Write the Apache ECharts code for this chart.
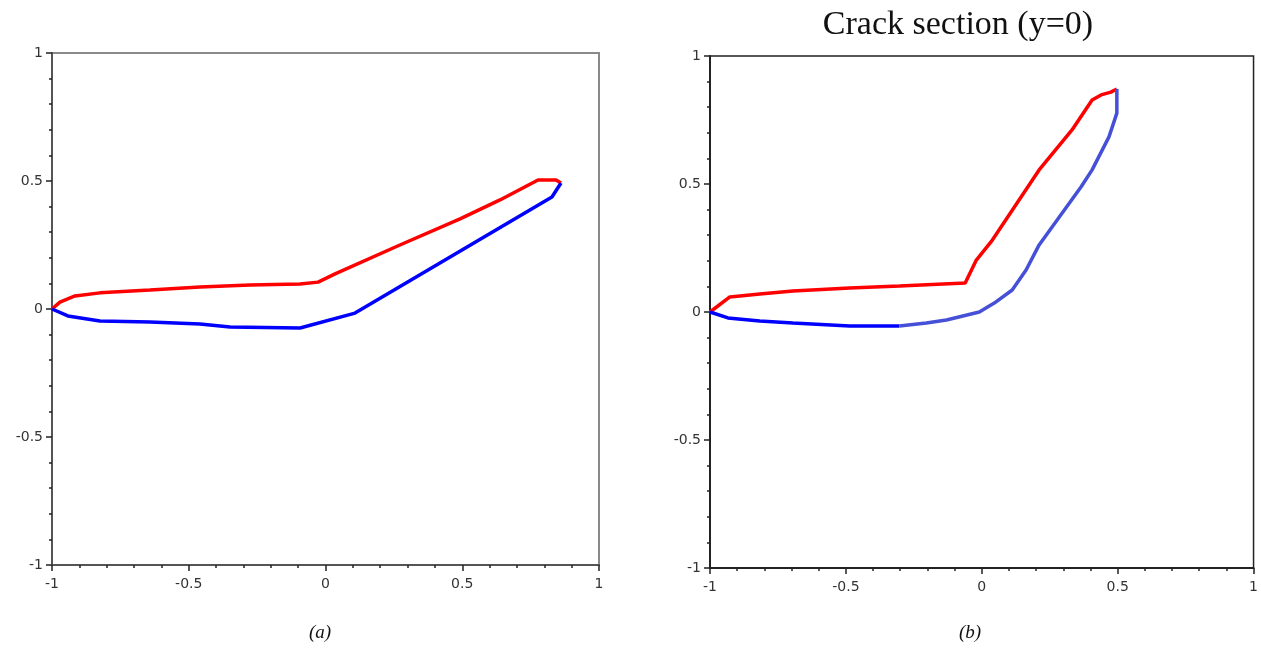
<!DOCTYPE html>
<html>
<head>
<meta charset="utf-8">
<script src="https://cdn.jsdelivr.net/npm/echarts/dist/echarts.min.js"></script>
<style>
  html, body { margin: 0; padding: 0; background: #fff; }
  #main { width: 1261px; height: 651px; }
</style>
</head>
<body>
<div id="main"></div>
<script>
// panel (a): upper (red) and lower (blue) crack faces
var redA = [
  [-1, 0], [-0.971, 0.027], [-0.916, 0.051], [-0.825, 0.063], [-0.642, 0.074],
  [-0.459, 0.086], [-0.276, 0.094], [-0.093, 0.098], [-0.027, 0.105], [0.035, 0.137],
  [0.272, 0.25], [0.492, 0.352], [0.638, 0.426], [0.777, 0.504], [0.843, 0.504], [0.861, 0.492]
];
var blueA = [
  [-1, 0], [-0.942, -0.027], [-0.825, -0.047], [-0.642, -0.051], [-0.459, -0.059],
  [-0.349, -0.07], [-0.093, -0.074], [0.108, -0.016], [0.828, 0.4375], [0.861, 0.492]
];

// panel (b): crack section y=0
var redB = [
  [-1, 0], [-0.927, 0.059], [-0.817, 0.07], [-0.695, 0.082], [-0.486, 0.094],
  [-0.303, 0.102], [-0.061, 0.113], [-0.02, 0.203], [0.039, 0.281], [0.211, 0.555],
  [0.332, 0.711], [0.406, 0.828], [0.439, 0.848], [0.475, 0.859], [0.497, 0.871]
];
var blueB1 = [
  [-1, 0], [-0.934, -0.023], [-0.817, -0.035], [-0.695, -0.043], [-0.486, -0.055], [-0.303, -0.055]
];
var blueB2 = [
  [-0.303, -0.055], [-0.204, -0.043], [-0.13, -0.031], [-0.009, 0], [0.046, 0.035],
  [0.112, 0.086], [0.163, 0.164], [0.211, 0.262], [0.365, 0.488], [0.406, 0.555],
  [0.468, 0.684], [0.497, 0.777], [0.497, 0.871]
];

var chart = echarts.init(document.getElementById('main'));

function axis(idx, lineColor, margin) {
  return {
    type: 'value', gridIndex: idx, min: -1, max: 1, interval: 0.5,
    splitLine: { show: false },
    axisLine: { show: true, onZero: false, lineStyle: { color: lineColor, width: 2 } },
    axisTick: { show: true, length: 6, lineStyle: { color: '#222', width: 1.5 } },
    minorTick: { show: true, splitNumber: 5, length: 3, lineStyle: { color: '#222', width: 1.5 } },
    axisLabel: { color: '#333', fontFamily: 'DejaVu Sans', fontSize: 14, margin: margin }
  };
}

function line(data, color, xi) {
  return {
    type: 'line', xAxisIndex: xi, yAxisIndex: xi, data: data,
    showSymbol: false, clip: false, animation: false,
    lineStyle: { color: color, width: 3.5 }
  };
}

chart.setOption({
  backgroundColor: '#fff',
  animation: false,
  grid: [
    { left: 52, right: 662, top: 53, bottom: 86, show: true, borderColor: '#8a8a8a', borderWidth: 2 },
    { left: 710, right: 6, top: 56, bottom: 83, show: true, borderColor: '#222', borderWidth: 1.5 }
  ],
  xAxis: [axis(0, '#555', 12), axis(1, '#222', 12)],
  yAxis: [axis(0, '#555', 9), axis(1, '#222', 9)],
  series: [
    line(redA, '#ff0000', 0),
    line(blueA, '#0000ff', 0),
    line(redB, '#ff0000', 1),
    line(blueB1, '#0000ff', 1),
    line(blueB2, '#4650d6', 1)
  ],
  graphic: [
    { type: 'text', x: 958, y: 8,
      style: { text: 'Crack section (y=0)', font: '34px "Liberation Serif"', fill: '#111', textAlign: 'center' } },
    { type: 'text', x: 320, y: 623,
      style: { text: '(a)', font: 'italic 19px "Liberation Serif"', fill: '#111', textAlign: 'center' } },
    { type: 'text', x: 970, y: 623,
      style: { text: '(b)', font: 'italic 19px "Liberation Serif"', fill: '#111', textAlign: 'center' } }
  ]
});
</script>
</body>
</html>
